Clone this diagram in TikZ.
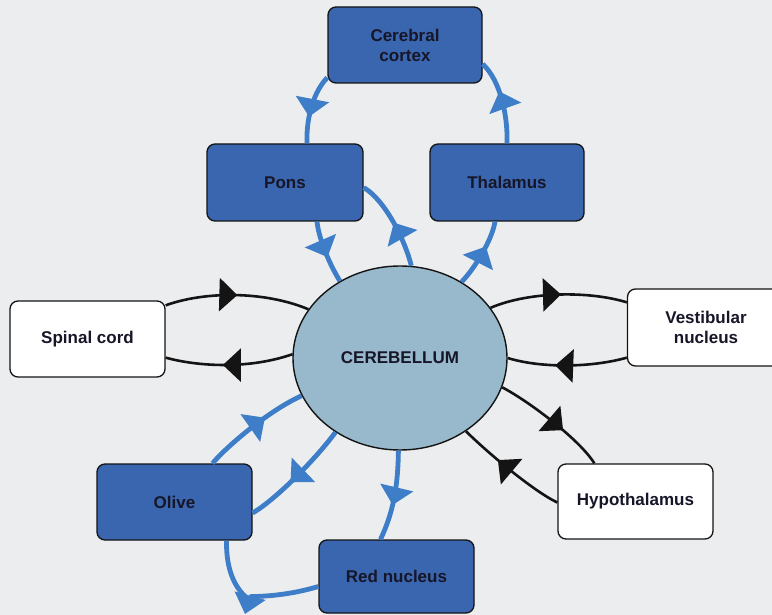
\documentclass[tikz,border=0pt]{standalone}
\usepackage{fontspec}
\setmainfont{Liberation Sans}
\usetikzlibrary{arrows.meta,decorations.markings,calc,shapes.geometric}
\definecolor{bg}{RGB}{236,237,239}
\definecolor{boxblue}{RGB}{58,102,176}
\definecolor{lineblue}{RGB}{62,126,200}
\definecolor{cbfill}{RGB}{152,184,204}
\definecolor{txt}{RGB}{22,22,40}
\definecolor{linek}{RGB}{20,20,20}
\tikzset{
  box/.style={draw=linek, line width=1.3pt, rounded corners=8pt, minimum width=155pt,
    minimum height=76pt, align=center, font=\bfseries\fontsize{17}{20}\selectfont,
    text=txt, inner sep=2pt},
  bluebox/.style={box, fill=boxblue},
  whitebox/.style={box, fill=white},
  arr/.style={postaction={decorate}, decoration={markings,
    mark=at position #1 with {\arrow{Triangle[length=18pt,width=33pt]}}}},
  blk/.style={color=linek, line width=2.6pt},
  bl/.style={color=lineblue, line width=4.8pt},
}
\begin{document}
\begin{tikzpicture}[x=1pt,y=-1pt]
\fill[bg] (0,0) rectangle (772,615);
\useasboundingbox (0,0) rectangle (772,615);
\clip (0,0) rectangle (772,615);

\node[bluebox, minimum width=154pt] (cortex) at (405,45) {Cerebral\\cortex};
\node[bluebox, minimum width=156pt, minimum height=77pt] (pons) at (285,182.5) {Pons};
\node[bluebox, minimum width=154pt, minimum height=77pt] (thal) at (507,182.5) {Thalamus};
\node[whitebox] (spinal) at (87.5,339) {Spinal cord};
\node[whitebox, minimum width=157pt, minimum height=77pt] (vest) at (706,327.5) {Vestibular\\nucleus};
\node[whitebox, minimum height=75pt] (hypo) at (635.5,501.5) {Hypothalamus};
\node[bluebox] (olive) at (174.5,502) {Olive};
\node[bluebox, minimum height=73pt] (red) at (396.5,576.5) {Red nucleus};
\node[ellipse, draw=linek, line width=1.4pt, fill=cbfill, minimum width=214pt, minimum height=184pt,
  inner sep=0pt, font=\bfseries\fontsize{17}{20}\selectfont, text=txt] (cb) at (400,358) {CEREBELLUM};

% black connectors
\draw[blk, arr=0.5] ($(spinal.north east)+(0,5)$) .. controls (205,291) and (265,291) .. (cb.152);
\draw[blk, arr=0.55] (cb.178) .. controls (250,369) and (200,367) .. ($(spinal.south east)+(0,-20)$);
\draw[blk, arr=0.52] (cb.29) .. controls (530,291) and (590,291) .. ($(vest.north west)+(0,14)$);
\draw[blk, arr=0.6] ($(vest.south west)+(0,-9)$) .. controls (590,368) and (540,368) .. (cb.0);
\draw[blk, arr=0.62] (cb.-16) .. controls (530,402) and (580,440) .. ($(hypo.north west)+(37,0)$);
\draw[blk, arr=0.63] ($(hypo.west)+(0,1)$) .. controls (535,492) and (490,455) .. (cb.-48);

% blue connectors
\draw[bl, arr=0.62] ($(cortex.south west)+(0,-6)$) .. controls (315,90) and (306,115) .. ($(pons.north)+(22,0)$);
\draw[bl, arr=0.62] (thal.north) .. controls (508,115) and (500,80) .. ($(cortex.east)+(0,19)$);
\draw[bl, arr=0.58] ($(pons.south)+(32,0)$) .. controls (319,240) and (330,265) .. (cb.128.5);
\draw[bl, arr=0.5] (cb.83) .. controls (405,240) and (385,200) .. ($(pons.east)+(0,5)$);
\draw[bl, arr=0.62] (cb.51.5) .. controls (475,268) and (492,240) .. ($(thal.south)+(-12,0)$);
\draw[bl, arr=0.62] ($(olive.north)+(38,0)$) .. controls (228,445) and (270,410) .. (cb.201);
\draw[bl, arr=0.58] (cb.229) .. controls (315,460) and (275,500) .. ($(olive.east)+(0,11)$);
\draw[bl, arr=0.6] (cb.269) .. controls (398,490) and (392,515) .. ($(red.north)+(-16,0)$);
\coordinate (bend) at (245,614);
\draw[bl, -{Triangle[length=19pt,width=31pt]}] ($(red.west)+(0,10)$) .. controls (280,598) and (250,596) .. (bend);
\draw[bl] ($(olive.south)+(52,0)$) .. controls (226,570) and (235,588) .. (247,598);
\end{tikzpicture}
\end{document}
